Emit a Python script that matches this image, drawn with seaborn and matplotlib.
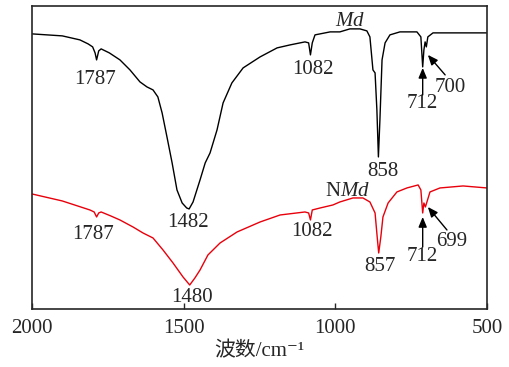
import numpy as np
import pandas as pd
import matplotlib
matplotlib.use("Agg")
import matplotlib.pyplot as plt
import seaborn as sns

# FTIR spectra (wavenumber in cm-1, transmittance in arbitrary units)
wn_md = [2000, 1900, 1842, 1815, 1800, 1792, 1787, 1780, 1772, 1745, 1710, 1677, 1644,
         1621, 1601, 1585, 1571, 1555, 1538, 1522, 1505, 1490, 1482, 1469, 1446, 1429,
         1413, 1390, 1370, 1341, 1304, 1248, 1192, 1149, 1100, 1088, 1082, 1076, 1067,
         1017, 985, 952, 919, 896, 886, 876, 869, 863, 858, 853, 846, 836, 820, 787,
         731, 718, 712, 708, 704, 700, 695, 678, 622, 500]
t_md = [275, 273, 269, 265, 262, 256, 249, 258, 260, 256, 249, 239, 227,
        222, 219, 212, 196, 172, 146, 119, 106, 101, 100, 107, 129, 146,
        156, 179, 206, 226, 241, 252, 261, 264, 267, 266, 254, 266, 274,
        277, 277, 280, 280, 278, 272, 239, 236, 199, 152, 189, 249, 266, 274, 277,
        277, 272, 242, 259, 267, 262, 272, 276, 276, 276]

wn_nmd = [2000, 1900, 1809, 1795, 1787, 1780, 1772, 1740, 1710, 1667, 1634, 1601, 1568,
          1535, 1502, 1480, 1463, 1446, 1420, 1380, 1324, 1248, 1182, 1100, 1088, 1082,
          1076, 1050, 1008, 985, 942, 909, 886, 869, 862, 857, 850, 843, 826, 797, 764,
          727, 718, 712, 708, 703, 699, 688, 655, 579, 500]
t_nmd = [115, 108, 99, 97, 92, 96, 97, 93, 89, 82, 76, 71, 59,
         46, 32, 24, 31, 39, 54, 66, 77, 87, 94, 97, 96, 89,
         99, 101, 104, 107, 111, 111, 107, 96, 72, 56, 72, 92, 106, 117, 121,
         124, 119, 96, 106, 102, 106, 117, 121, 123, 121]

md = pd.DataFrame({"wn": wn_md, "t": t_md})
nmd = pd.DataFrame({"wn": wn_nmd, "t": t_nmd})

sns.set_style("ticks")
plt.rcParams["font.family"] = ["Liberation Serif", "Noto Sans CJK SC", "DejaVu Serif"]
plt.rcParams["mathtext.fontset"] = "custom"
plt.rcParams["mathtext.rm"] = "Liberation Serif"
plt.rcParams["mathtext.it"] = "Liberation Serif:italic"

fig = plt.figure(figsize=(5.1, 3.67), dpi=100)
ax = fig.add_axes([0.0627, 0.158, 0.8922, 0.826])

sns.lineplot(data=md, x="wn", y="t", color="black", lw=1.0, estimator=None, ax=ax)
sns.lineplot(data=nmd, x="wn", y="t", color="#e8000b", lw=1.0, estimator=None, ax=ax)

ax.set_xlim(2000, 500)
ax.set_ylim(0, 303)
ax.set_xticks([2000, 1500, 1000, 500])
ax.set_yticks([])
ax.tick_params(axis="x", direction="in", length=4, width=1, labelsize=15, pad=7)
for s in ax.spines.values():
    s.set_linewidth(1.2)
ax.set_xlabel("波数/cm⁻¹", fontsize=15, labelpad=3,
              family=["Liberation Serif", "Noto Sans CJK SC", "DejaVu Serif"])
ax.set_ylabel("")

fs = 15
kw = dict(fontsize=fs, ha="center", va="center")
# upper spectrum labels
ax.text(951, 287, r"$\mathit{Md}$", **kw)
ax.text(1792, 229, "1787", **kw)
ax.text(1074, 239, "1082", **kw)
ax.text(1486, 86, "1482", **kw)
ax.text(843, 137, "858", **kw)
ax.text(714, 205, "712", **kw)
ax.text(622, 221, "700", **kw)
arrow = dict(arrowstyle="-|>,head_length=0.6,head_width=0.25", color="black", lw=1.0,
             shrinkA=0, shrinkB=0)
ax.annotate("", xy=(712, 241), xytext=(712, 214), arrowprops=arrow)
ax.annotate("", xy=(695, 254), xytext=(638, 234), arrowprops=arrow)

# lower spectrum labels
ax.text(961, 117, r"N$\mathit{Md}$", **kw)
ax.text(1799, 74, "1787", **kw)
ax.text(1077, 77, "1082", **kw)
ax.text(1472, 12, "1480", **kw)
ax.text(853, 42, "857", **kw)
ax.text(714, 52, "712", **kw)
ax.text(615, 67, "699", **kw)
ax.annotate("", xy=(712, 92), xytext=(712, 62), arrowprops=arrow)
ax.annotate("", xy=(695, 102), xytext=(632, 79), arrowprops=arrow)

fig.savefig("out.png", dpi=100)
